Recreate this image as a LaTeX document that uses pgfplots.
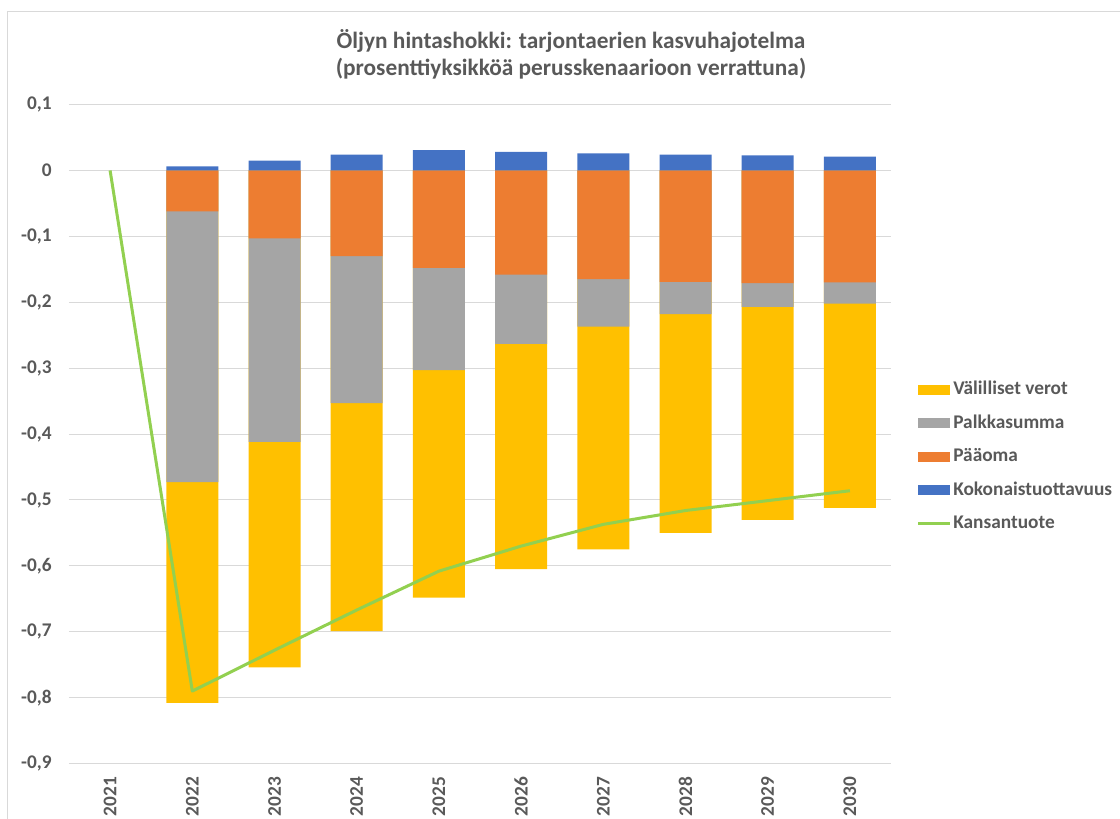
\documentclass[border=0pt]{standalone}
\usepackage{fontspec}
\setmainfont{Carlito}
\usepackage{pgfplots}
\pgfplotsset{compat=1.18}
\definecolor{cY}{HTML}{FFC000}
\definecolor{cG}{HTML}{A5A5A5}
\definecolor{cO}{HTML}{ED7D31}
\definecolor{cB}{HTML}{4472C4}
\definecolor{cL}{HTML}{92D050}
\definecolor{txt}{HTML}{595959}
\definecolor{gridc}{HTML}{D9D9D9}
\newcommand\lbl{\fontsize{14.5}{17}\selectfont\bfseries}
\pgfplotsset{
  mybarleg/.style={legend image code/.code={\fill[##1] (0pt,-3.75pt) rectangle (24pt,3.75pt);}},
  mylineleg/.style={legend image code/.code={\draw[##1] (0pt,0pt) -- (24pt,0pt);}},
}
\begin{document}
\begin{tikzpicture}
\useasboundingbox (-51.75pt,-40.8pt) rectangle (788.25pt,572.7pt);
\draw[gridc, line width=0.75pt] (-45.75pt,-60pt) -- (-45.75pt,563.7pt) -- (800pt,563.7pt);
\node[anchor=base, text=txt, font=\fontsize{17.5}{20}\selectfont\bfseries] at (376.5pt,536.5pt) {Öljyn hintashokki: tarjontaerien kasvuhajotelma};
\node[anchor=base, text=txt, font=\fontsize{17.5}{20}\selectfont\bfseries] at (376.5pt,516pt) {(prosenttiyksikköä perusskenaarioon verrattuna)};
\begin{axis}[
  at={(0pt,0pt)}, anchor=south west,
  scale only axis, width=616.5pt, height=494.3pt,
  xmin=-0.5, xmax=9.5, ymin=-0.9, ymax=0.1,
  axis line style={draw=none},
  major tick length=0pt,
  ymajorgrids, grid style={gridc, line width=0.75pt},
  xtick={0,1,2,3,4,5,6,7,8,9},
  xticklabels={2021,2022,2023,2024,2025,2026,2027,2028,2029,2030},
  ytick={-0.9,-0.8,-0.7,-0.6,-0.5,-0.4,-0.3,-0.2,-0.1,0,0.1},
  xticklabel style={rotate=90, anchor=east},
  xticklabel shift=6.5pt,
  yticklabel shift=9.5pt,
  tick label style={font=\lbl, text=txt},
  /pgf/number format/use comma,
  /pgf/number format/fixed,
  /pgf/number format/precision=1,
  /pgf/number format/assume math mode=true,
  legend cell align=left,
  legend style={at={(axis description cs:1.0316,0.5829)}, anchor=north west,
    draw=none, fill=none, inner sep=0pt, outer sep=0pt, row sep=9.6pt,
    font=\lbl, text=txt,
    nodes={inner sep=1pt, text height=10.5pt, text depth=3pt}},
]
\addplot[ybar, bar width=39pt, fill=cY, draw=none, mybarleg] coordinates {
(1,-0.808) (2,-0.754) (3,-0.699) (4,-0.648) (5,-0.605) (6,-0.575) (7,-0.550) (8,-0.530) (9,-0.512)};
\addlegendentry{Välilliset verot}
\addplot[ybar, bar width=39pt, fill=cG, draw=none, mybarleg] coordinates {
(1,-0.473) (2,-0.412) (3,-0.353) (4,-0.303) (5,-0.263) (6,-0.237) (7,-0.218) (8,-0.207) (9,-0.202)};
\addlegendentry{Palkkasumma}
\addplot[ybar, bar width=39pt, fill=cO, draw=none, mybarleg] coordinates {
(1,-0.062) (2,-0.103) (3,-0.130) (4,-0.148) (5,-0.158) (6,-0.165) (7,-0.169) (8,-0.171) (9,-0.170)};
\addlegendentry{Pääoma}
\addplot[ybar, bar width=39pt, fill=cB, draw=none, mybarleg] coordinates {
(1,0.006) (2,0.015) (3,0.024) (4,0.031) (5,0.028) (6,0.026) (7,0.024) (8,0.023) (9,0.021)};
\addlegendentry{Kokonaistuottavuus}
\addplot[sharp plot, cL, line width=2.25pt, mark=none, line join=round, mylineleg] coordinates {
(0,0) (1,-0.790) (2,-0.728) (3,-0.667) (4,-0.608) (5,-0.570) (6,-0.537) (7,-0.516) (8,-0.501) (9,-0.486)};
\addlegendentry{Kansantuote}
\end{axis}
\end{tikzpicture}
\end{document}
